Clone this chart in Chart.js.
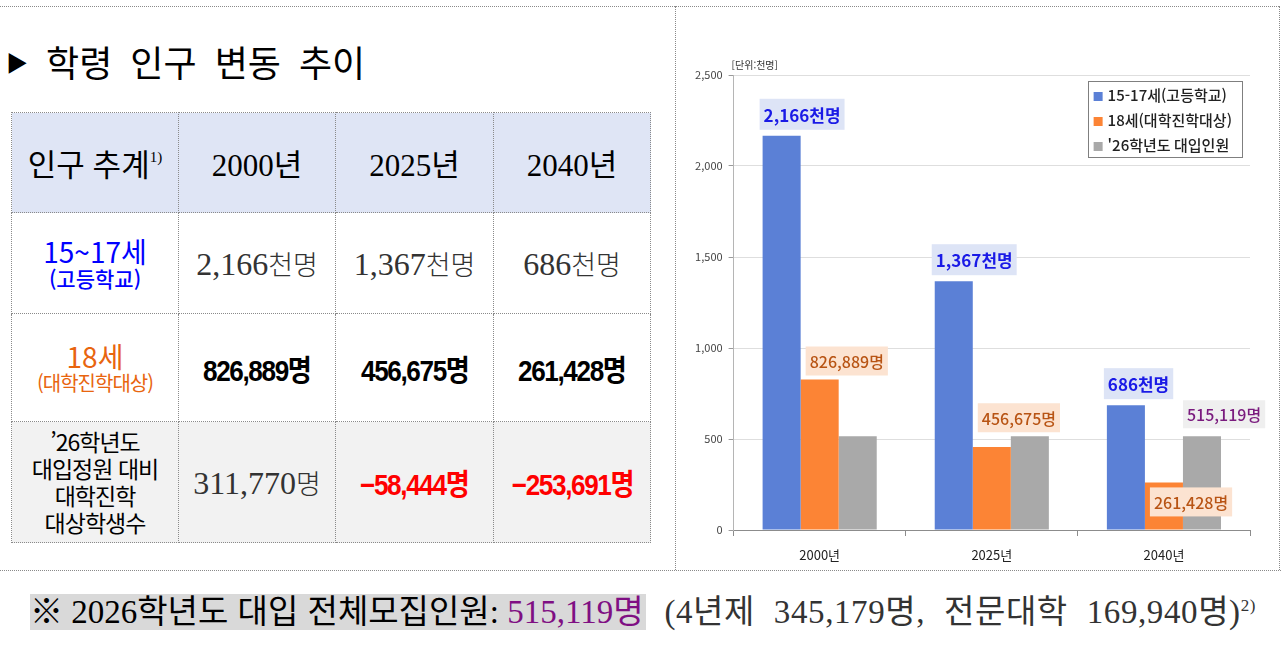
<!DOCTYPE html>
<html lang="ko">
<head>
<meta charset="utf-8">
<style>
  body { margin: 0; background: #fff; width: 1281px; height: 648px; position: relative; overflow: hidden;
         font-family: "Noto Sans CJK KR", sans-serif; }
  .line-h { position: absolute; height: 0; border-top: 1px dotted #8a8a8a; }
  .line-v { position: absolute; width: 0; border-left: 1px dotted #8a8a8a; }
  #title { position: absolute; left: 6px; top: 36px; font-size: 36px; line-height: 50px; color: #000; white-space: nowrap; word-spacing: 8px; }
  #title .tri { font-size: 22px; vertical-align: 6px; margin-right: 18px; }
  table { position: absolute; left: 11px; top: 112px; border-collapse: collapse; table-layout: fixed; }
  td { border: 1px dotted #8a8a8a; text-align: center; vertical-align: middle; padding: 0; white-space: nowrap; }
  .hdr td { background: #dfe5f5; height: 99px; font-family: "Liberation Serif", "Noto Sans CJK KR", serif; font-size: 31px; color: #000; }
  .hdr sup { font-size: 15px; vertical-align: 14px; }
  .num { font-family: "Liberation Serif", "Noto Sans CJK KR", serif; font-size: 32px; color: #333; }
  .num .h { font-family: "Noto Sans CJK KR", sans-serif; font-size: 27px; font-weight: 300; }
  .bold { display: inline-block; font-family: "Liberation Sans Narrow", "Liberation Sans", "Noto Sans CJK KR", sans-serif; font-weight: bold; font-size: 29px; letter-spacing: -1.5px; color: #000; transform: scaleX(0.9); }
  .red { color: #ff0000; }
  .k1 { color: #0000ff; font-size: 28px; line-height: 30px; }
  .k1s { color: #0000ff; font-size: 21px; line-height: 24px; font-weight: 500; }
  .k2 { color: #e8650f; font-size: 28px; line-height: 30px; }
  .k2s { color: #e8650f; font-size: 20px; line-height: 24px; letter-spacing: -1px; }
  .k3 { font-size: 23px; line-height: 27px; color: #000; letter-spacing: -1px; }
  .gray td { background: #f2f2f2; }
  #foot { position: absolute; left: 30px; top: 587px; white-space: nowrap;
          font-family: "Liberation Serif", "Noto Sans CJK KR", serif; font-size: 33px; line-height: 38px; color: #333; }
  #foot .hl { background: #d9d9d9; color: #000; padding-right: 2px; }
  #foot .pp { color: #7f0f83; }
  #foot .rest { word-spacing: 10px; letter-spacing: 0.6px; }
  #foot .k { font-family: "Noto Sans CJK KR", sans-serif; }
  #foot sup { font-size: 17px; vertical-align: 12px; }
  #chartBox { position: absolute; left: 680px; top: 40px; width: 590px; height: 535px; }
</style>
</head>
<body>
<div class="line-h" style="left:0;top:6px;width:1279px"></div>
<div class="line-v" style="left:1279px;top:6px;height:564px"></div>
<div class="line-v" style="left:675px;top:6px;height:564px"></div>
<div class="line-h" style="left:0;top:570px;width:1281px"></div>

<div id="title"><span class="tri">▶</span>학령 인구 변동 추이</div>

<table>
  <colgroup><col style="width:167px"><col style="width:157px"><col style="width:158px"><col style="width:157px"></colgroup>
  <tr class="hdr"><td>인구 추계<sup>1)</sup></td><td>2000년</td><td>2025년</td><td>2040년</td></tr>
  <tr style="height:101px">
    <td><div class="k1">15~17세</div><div class="k1s">(고등학교)</div></td>
    <td class="num">2,166<span class="h">천명</span></td>
    <td class="num">1,367<span class="h">천명</span></td>
    <td class="num">686<span class="h">천명</span></td>
  </tr>
  <tr style="height:108px">
    <td><div class="k2">18세</div><div class="k2s">(대학진학대상)</div></td>
    <td><span class="bold">826,889명</span></td>
    <td><span class="bold">456,675명</span></td>
    <td><span class="bold">261,428명</span></td>
  </tr>
  <tr class="gray" style="height:121px">
    <td class="k3">’26학년도<br>대입정원 대비<br>대학진학<br>대상학생수</td>
    <td class="num">311,770<span class="h">명</span></td>
    <td><span class="bold red">−58,444명</span></td>
    <td><span class="bold red">−253,691명</span></td>
  </tr>
</table>

<div id="foot"><span class="hl">※ 2026<span class="k">학년도 대입 전체모집인원</span>: <span class="pp">515,119<span class="k">명</span></span></span><span class="rest"> (4<span class="k">년제</span> 345,179<span class="k">명</span>, <span class="k">전문대학</span> 169,940<span class="k">명</span>)<sup>2)</sup></span></div>

<div id="chartBox"><canvas id="myChart" width="590" height="535"></canvas></div>

<script src="https://cdn.jsdelivr.net/npm/chart.js"></script>
<script>
  const years = ['2000년', '2025년', '2040년'];
  const highSchool = [2166, 1367, 686];           // 천명
  const age18 = [826889, 456675, 261428];         // 명
  const admission = [515119, 515119, 515119];     // 명
  const seriesNames = ['15-17세(고등학교)', '18세(대학진학대상)', '\'26학년도 대입인원'];
  const highLabels = ['2,166천명', '1,367천명', '686천명'];
  const age18Labels = ['826,889명', '456,675명', '261,428명'];
  const admissionLabels = ['', '', '515,119명'];
  const yTicks = [0, 500, 1000, 1500, 2000, 2500];

  const FONT = '"Noto Sans CJK KR", sans-serif';

  // value labels drawn as boxes over the bars
  const barLabels = {
    id: 'barLabels',
    afterDatasetsDraw(chart, args, opts) {
      const ctx = chart.ctx;
      opts.sets.forEach(set => {
        const meta = chart.getDatasetMeta(set.ds);
        set.texts.forEach((txt, i) => {
          if (!txt) return;
          const bar = meta.data[i];
          ctx.save();
          ctx.font = set.font;
          const w = ctx.measureText(txt).width + 8;
          const h = set.h;
          const left = bar.x - bar.width / 2 + set.dx;
          let top;
          const place = set.place[i];
          if (place === 'inside') {
            top = bar.y + 5;
          } else {
            let ref = bar.y;
            if (place === 'group') {
              chart.data.datasets.forEach((d, k) => {
                const b = chart.getDatasetMeta(k).data[i];
                if (k > set.ds) ref = Math.min(ref, b.y);
              });
            }
            top = ref - set.gap - h;
          }
          ctx.fillStyle = set.bg;
          ctx.fillRect(left, top, w, h);
          ctx.fillStyle = set.color;
          ctx.textBaseline = 'middle';
          ctx.textAlign = 'left';
          ctx.fillText(txt, left + 4, top + h / 2 + 1);
          ctx.restore();
        });
      });
    }
  };

  // boxed legend in the top-right corner and the unit note
  const boxLegend = {
    id: 'boxLegend',
    afterDraw(chart) {
      const ctx = chart.ctx;
      const area = chart.chartArea;
      ctx.save();
      ctx.font = '10px ' + FONT;
      ctx.fillStyle = '#333';
      ctx.textBaseline = 'middle';
      ctx.fillText('[단위:천명]', area.left - 2, 25);

      ctx.font = '500 15px ' + FONT;
      const ds = chart.data.datasets;
      let maxW = 0;
      ds.forEach(d => { maxW = Math.max(maxW, ctx.measureText(d.label).width); });
      const bw = 6 + 9 + 5 + maxW + 10;
      const bh = 76;
      const bx = area.right - 8 - bw;
      const by = area.top + 6;
      ctx.fillStyle = '#fff';
      ctx.fillRect(bx, by, bw, bh);
      ctx.strokeStyle = '#7f7f7f';
      ctx.lineWidth = 1;
      ctx.strokeRect(Math.round(bx) + 0.5, Math.round(by) + 0.5, Math.round(bw), Math.round(bh));
      ds.forEach((d, k) => {
        const cy = by + 14 + k * 25;
        ctx.fillStyle = d.backgroundColor;
        ctx.fillRect(bx + 6, cy - 3, 9, 9);
        ctx.fillStyle = '#222';
        ctx.fillText(d.label, bx + 20, cy);
      });
      ctx.restore();
    }
  };

  const data = {
    labels: years,
    datasets: [
      { label: seriesNames[0], data: highSchool, backgroundColor: '#5b80d6' },
      { label: seriesNames[1], data: age18.map(v => v / 1000), backgroundColor: '#fc8435' },
      { label: seriesNames[2], data: admission.map(v => v / 1000), backgroundColor: '#a9a9a9' }
    ]
  };

  const config = {
    type: 'bar',
    data: data,
    plugins: [barLabels, boxLegend],
    options: {
      responsive: false,
      animation: false,
      layout: { padding: { top: 35, right: 20, left: 0, bottom: 0 } },
      datasets: { bar: { categoryPercentage: 0.663, barPercentage: 1.0 } },
      plugins: {
        legend: { display: false },
        tooltip: { enabled: false },
        barLabels: {
          sets: [
            { ds: 0, texts: highLabels, font: 'bold 17px ' + FONT, color: '#1a1ae6', bg: '#dde4f6', h: 31, gap: 6, dx: -3, place: ['above', 'above', 'above'] },
            { ds: 1, texts: age18Labels, font: '500 16px ' + FONT, color: '#b85414', bg: '#fce3d1', h: 29, gap: 4, dx: 5, place: ['above', 'group', 'inside'] },
            { ds: 2, texts: admissionLabels, font: '500 16px ' + FONT, color: '#7a1b7e', bg: '#efefef', h: 28, gap: 8, dx: 0, place: ['above', 'above', 'above'] }
          ]
        }
      },
      scales: {
        x: {
          afterFit(scale) { scale.height = 45; },
          grid: { display: true, drawOnChartArea: false, drawTicks: true, tickLength: 6, tickColor: '#8c8c8c', offset: true },
          border: { display: true, color: '#8c8c8c', width: 1 },
          ticks: { color: '#222', font: { family: FONT, size: 13 }, padding: 11 }
        },
        y: {
          min: 0,
          max: 2500,
          afterFit(scale) { scale.width = 53.6; },
          afterBuildTicks(scale) { scale.ticks = yTicks.map(v => ({ value: v })); },
          grid: { color: '#dedede', drawTicks: true, tickLength: 5, tickColor: '#9a9a9a' },
          border: { display: true, color: '#b5b5b5', width: 1 },
          ticks: {
            color: '#444', font: { family: FONT, size: 11 }, padding: 6,
            callback: v => v.toLocaleString('en-US')
          }
        }
      }
    }
  };

  const myChart = new Chart(document.getElementById('myChart'), config);
</script>
</body>
</html>
